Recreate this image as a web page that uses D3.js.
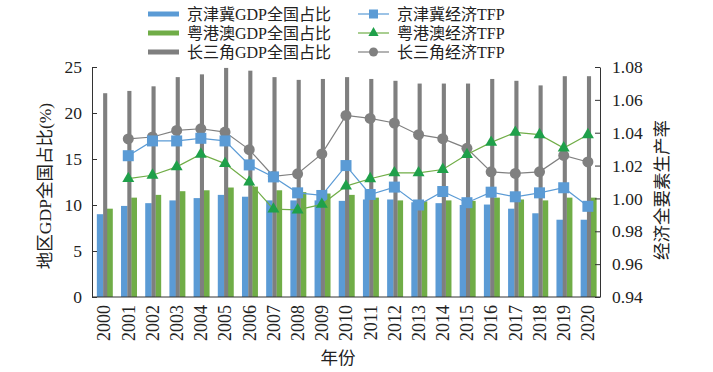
<!DOCTYPE html>
<html><head><meta charset="utf-8">
<script src="https://cdn.jsdelivr.net/npm/d3@7"></script>
<style>
html,body{margin:0;padding:0;background:#fff;}
svg{display:block;}
text{font-family:"Liberation Serif","Noto Sans CJK SC",serif;fill:#222;}
</style></head>
<body><svg id="c" width="713" height="372"></svg>
<script>
const years = ["2000","2001","2002","2003","2004","2005","2006","2007","2008","2009","2010","2011","2012","2013","2014","2015","2016","2017","2018","2019","2020"];
const jjjGDP = [9.0,9.9,10.2,10.5,10.75,11.1,10.9,10.5,10.5,10.5,10.45,10.6,10.6,10.3,10.2,10.0,10.05,9.6,9.1,8.4,8.4];
const ygaGDP = [9.6,10.8,11.1,11.5,11.6,11.9,12.0,11.6,11.4,11.25,11.1,10.8,10.5,10.4,10.5,10.45,10.8,10.6,10.5,10.8,10.8];
const csjGDP = [22.15,22.4,22.9,23.9,24.2,24.9,24.6,23.9,23.6,23.7,23.9,23.7,23.5,23.2,23.2,23.2,23.7,23.5,23.0,24.0,24.0];
const jjjTFP = [null,1.026,1.035,1.035,1.0366,1.035,1.0204,1.0131,1.0034,1.0018,1.020,1.0024,1.0069,0.996,1.0042,0.9974,1.0038,1.001,1.0034,1.0065,0.9952];
const ygaTFP = [null,1.0121,1.0141,1.0192,1.0269,1.0212,1.0099,0.9935,0.993,0.9964,1.0075,1.012,1.0156,1.0156,1.0176,1.0267,1.0341,1.0402,1.0388,1.0307,1.0388];
const csjTFP = [null,1.0362,1.0374,1.0414,1.0424,1.0404,1.0297,1.0135,1.015,1.0271,1.0505,1.0487,1.0459,1.0388,1.0364,1.0305,1.0162,1.0152,1.0162,1.0262,1.0222];
const leftTicks = [0,5,10,15,20,25];
const rightTicks = [0.94,0.96,0.98,1.00,1.02,1.04,1.06,1.08];

const svg = d3.select("#c");
const L = 92, R = 600, T = 67, B = 297;
const x = d3.scaleBand().domain(years).range([L, R]).padding(0);
const yL = d3.scaleLinear().domain([0,25]).range([B, T]);
const yR = d3.scaleLinear().domain([0.94,1.08]).range([B, T]);
const bw = x.bandwidth();

const cBlue = "#5B9BD5", cGreen = "#70AD47", cGray = "#7F7F7F", cTri = "#1FA04A";

// bars
const barDefs = [
  {vals: jjjGDP, off: 0.20, w: 0.27, c: cBlue},
  {vals: ygaGDP, off: 0.62, w: 0.24, c: cGreen},
  {vals: csjGDP, off: 0.46, w: 0.17, c: cGray}
];
barDefs.forEach(d => {
  svg.append("g").selectAll("rect").data(years).join("rect")
    .attr("x", (yr) => x(yr) + bw * d.off)
    .attr("width", bw * d.w)
    .attr("y", (yr, i) => yL(d.vals[i]))
    .attr("height", (yr, i) => B - yL(d.vals[i]))
    .attr("fill", d.c);
});

// axes
const axL = svg.append("g").attr("transform", `translate(${L},0)`)
  .call(d3.axisLeft(yL).tickValues(leftTicks).tickSizeInner(-5).tickSizeOuter(0).tickPadding(10));
const axR = svg.append("g").attr("transform", `translate(${R},0)`)
  .call(d3.axisRight(yR).tickValues(rightTicks).tickFormat(d3.format(".2f")).tickSizeInner(-5).tickSizeOuter(0).tickPadding(12));
const axB = svg.append("g").attr("transform", `translate(0,${B})`)
  .call(d3.axisBottom(x).tickSize(0).tickSizeOuter(0).tickPadding(6));
[axL, axR, axB].forEach(a => {
  a.select(".domain").attr("stroke", "#333");
  a.selectAll(".tick line").attr("stroke", "#333");
  a.selectAll("text").style("font-family", '"Liberation Serif",serif').attr("font-size", 17.5).attr("fill", "#222");
});
axB.select(".domain").attr("d", `M${L},0H${R}`);
axB.selectAll(".tick text")
  .attr("font-size", 18)
  .attr("transform", "rotate(-90)")
  .attr("text-anchor", "end")
  .attr("dy", "0.35em")
  .attr("x", -8).attr("y", 0);

// lines
function drawSeries(vals, color, marker, mcolor) {
  const pts = years.map((yr, i) => ({yr, v: vals[i]})).filter(p => p.v != null);
  const line = d3.line().x(p => x(p.yr) + bw / 2).y(p => yR(p.v));
  svg.append("path").datum(pts).attr("d", line).attr("fill", "none").attr("stroke", color).attr("stroke-width", 1.2);
  const g = svg.append("g");
  if (marker === "square") {
    g.selectAll("rect").data(pts).join("rect")
      .attr("x", p => x(p.yr) + bw / 2 - 5.5).attr("y", p => yR(p.v) - 5.5)
      .attr("width", 11).attr("height", 11).attr("fill", mcolor);
  } else if (marker === "circle") {
    g.selectAll("circle").data(pts).join("circle")
      .attr("cx", p => x(p.yr) + bw / 2).attr("cy", p => yR(p.v)).attr("r", 5.5).attr("fill", mcolor);
  } else {
    const sym = d3.symbol().type(d3.symbolTriangle).size(62);
    g.selectAll("path").data(pts).join("path")
      .attr("transform", p => `translate(${x(p.yr) + bw / 2},${yR(p.v)})`)
      .attr("d", sym).attr("fill", mcolor);
  }
}
drawSeries(csjTFP, "#808080", "circle", "#808080");
drawSeries(jjjTFP, cBlue, "square", cBlue);
drawSeries(ygaTFP, cGreen, "triangle", cTri);

// axis titles
svg.append("text").attr("x", 338).attr("y", 364).attr("text-anchor", "middle").attr("font-size", 17.5).text("年份");
svg.append("text").attr("transform", "translate(51,186) rotate(-90)").attr("text-anchor", "middle").attr("font-size", 17.5).text("地区GDP全国占比(%)");
svg.append("text").attr("transform", "translate(668,190) rotate(-90)").attr("text-anchor", "middle").attr("font-size", 17.5).text("经济全要素生产率");

// legend
const legL = [
  {t: "京津冀GDP全国占比", c: cBlue},
  {t: "粤港澳GDP全国占比", c: cGreen},
  {t: "长三角GDP全国占比", c: cGray}
];
const legR = [
  {t: "京津冀经济TFP", c: cBlue, m: "square", mc: cBlue},
  {t: "粤港澳经济TFP", c: cGreen, m: "triangle", mc: cTri},
  {t: "长三角经济TFP", c: "#808080", m: "circle", mc: "#808080"}
];
const rowY = [14, 33, 52];
legL.forEach((d, i) => {
  svg.append("rect").attr("x", 148).attr("y", rowY[i] - 2.5).attr("width", 31).attr("height", 5).attr("fill", d.c);
  svg.append("text").attr("x", 187).attr("y", rowY[i]).attr("dy", "0.35em").attr("font-size", 16).text(d.t);
});
legR.forEach((d, i) => {
  const cy = rowY[i];
  svg.append("line").attr("x1", 358).attr("x2", 389).attr("y1", cy).attr("y2", cy).attr("stroke", d.c).attr("stroke-width", 1.2);
  if (d.m === "square") svg.append("rect").attr("x", 369).attr("y", cy - 4.5).attr("width", 9).attr("height", 9).attr("fill", d.mc);
  else if (d.m === "circle") svg.append("circle").attr("cx", 373.5).attr("cy", cy).attr("r", 4.5).attr("fill", d.mc);
  else svg.append("path").attr("transform", `translate(373.5,${cy})`).attr("d", d3.symbol().type(d3.symbolTriangle).size(45)()).attr("fill", d.mc);
  svg.append("text").attr("x", 397).attr("y", cy).attr("dy", "0.35em").attr("font-size", 16).text(d.t);
});
</script></body></html>
